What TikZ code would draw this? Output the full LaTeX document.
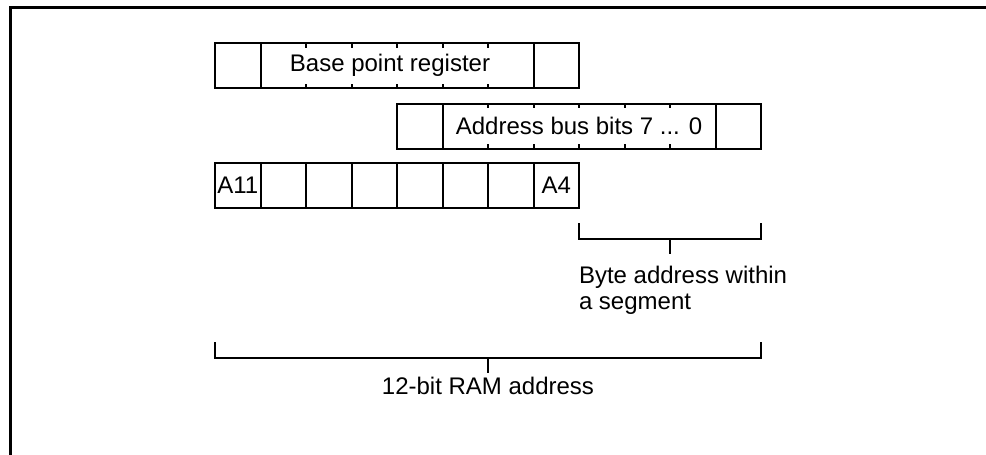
\documentclass[tikz,border=0pt]{standalone}
\usepackage{fontspec}
\setmainfont{Liberation Sans}
\begin{document}
\begin{tikzpicture}[x=1pt,y=-1pt,line width=2pt,
  font=\fontsize{24}{26}\selectfont,
  cell/.style={draw,line width=2pt,minimum height=45.5pt,inner sep=0pt,outer sep=0pt,anchor=north west},
  w1/.style={minimum width=45.5pt},
  lbl/.style={inner sep=0pt,outer sep=0pt},
  tick/.style={line width=2pt},
  brk/.style={line width=2pt,line join=miter}]
\useasboundingbox (0,0) rectangle (986,455);
% frame
\draw[line width=2.7pt,line join=miter] (10.7,455) -- (10.7,7.5) -- (986,7.5);
% row 1: base point register
\node[cell,w1] (b0) at (215,42.8) {};
\node[cell,minimum width=273pt] (bm) at (260.5,42.8) {};
\node[cell,w1] (b7) at (533.5,42.8) {};
\node[lbl] (bt) at (390,65.5) {Base point register};
\foreach \x in {306,351.5,397,442.5,488}{
  \draw[tick] (\x,42.8) -- (\x,47.5);
  \draw[tick] (\x,88.3) -- (\x,83.6);
}
% row 2: address bus
\node[cell,w1] (a0) at (397,103.5) {};
\node[cell,minimum width=273pt] (am) at (442.5,103.5) {};
\node[cell,w1] (a7) at (715.5,103.5) {};
\node[lbl] (at) at (579,126.3) {Address bus bits 7 ... 0};
\foreach \x in {488,533.5,579,624.5,670}{
  \draw[tick] (\x,103.5) -- (\x,108.2);
  \draw[tick] (\x,149) -- (\x,144.3);
}
% row 3: RAM address bits
\node[cell,w1] (r0) at (215,162.8) {A11};
\node[cell,w1] (r1) at (260.5,162.8) {};
\node[cell,w1] (r2) at (306,162.8) {};
\node[cell,w1] (r3) at (351.5,162.8) {};
\node[cell,w1] (r4) at (397,162.8) {};
\node[cell,w1] (r5) at (442.5,162.8) {};
\node[cell,w1] (r6) at (488,162.8) {};
\node[cell,w1] (r7) at (533.5,162.8) {A4};
% bracket 1
\coordinate (p1l) at (579,223);
\coordinate (p1r) at (761,223);
\coordinate (p1m) at (670,239);
\coordinate (p1t) at (670,254);
\draw[brk] (p1l) |- (p1m) -| (p1r);
\draw[brk] (p1m) -- (p1t);
\node[lbl,anchor=north west,align=left] (byte) at (579,266.5) {Byte address within\\a segment};
% bracket 2
\coordinate (p2l) at (215,342);
\coordinate (p2r) at (761,342);
\coordinate (p2m) at (488,358);
\coordinate (p2t) at (488,373);
\draw[brk] (p2l) |- (p2m) -| (p2r);
\draw[brk] (p2m) -- (p2t);
\node[lbl,anchor=north] (ram) at (488,377.5) {12-bit RAM address};
\end{tikzpicture}
\end{document}
